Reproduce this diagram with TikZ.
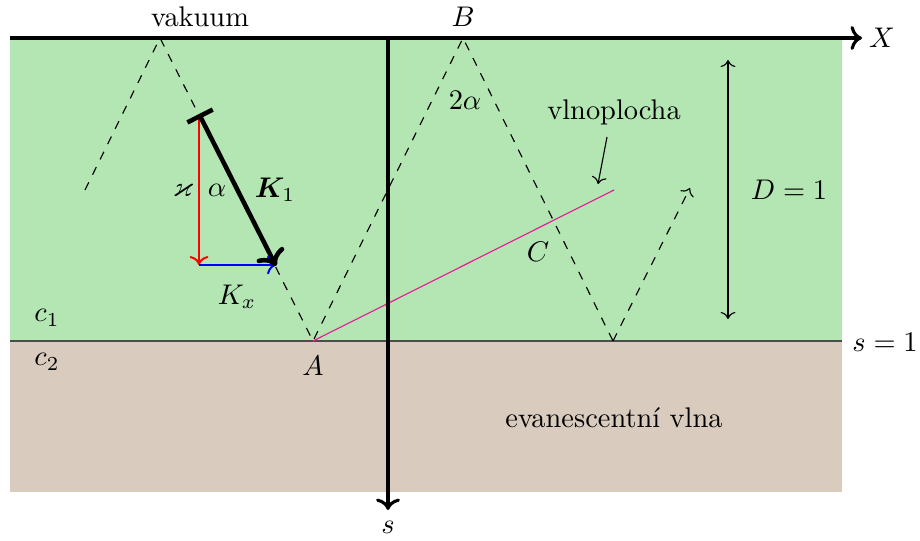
\documentclass[tikz,border=0pt]{standalone}
\usepackage{amsmath,amssymb,bm}
\usetikzlibrary{arrows.meta}
\definecolor{zelena}{RGB}{179,230,179}
\definecolor{hneda}{RGB}{217,203,190}
\definecolor{ruzova}{RGB}{230,30,150}
\begin{document}
\begin{tikzpicture}[x=0.352pt,y=-0.352pt,
  ray/.style={dashed,thin},
  axis/.style={line width=1.1pt,->},
  lbl/.style={inner sep=1pt}]
\useasboundingbox (0,0) rectangle (920,541);
% regions
\fill[zelena] (10,38) rectangle (842,341);
\fill[hneda] (10,341) rectangle (842,492);
\draw[black!70,thin] (10,341) -- (842,341);
% points
\coordinate (P0) at (85,190);
\coordinate (T1) at (160,38);
\coordinate (A) at (313,341);
\coordinate (B) at (463,38);
\coordinate (Q) at (613,341);
\coordinate (E) at (690,188);
\coordinate (W) at (614,190);
\coordinate (K0) at (199,114);
\coordinate (K1e) at (276,266);
\coordinate (Kx) at (199,265);
\coordinate (Kxe) at (276,265);
\coordinate (Xs) at (10,38);
\coordinate (Xe) at (862,38);
\coordinate (Ss) at (388,38);
\coordinate (Se) at (388,510);
\coordinate (D0) at (728,60);
\coordinate (D1) at (728,319);
\coordinate (V0) at (607,137);
\coordinate (V1) at (598,184);
% rays
\draw[ray] (P0) -- (T1) -- (A) -- (B) -- (Q);
\draw[ray,->] (Q) -- (E);
% wavefront
\draw[ruzova,thin] (A) -- (W);
% axes
\draw[axis] (Xs) -- (Xe);
\draw[axis] (Ss) -- (Se);
% vectors
\draw[red,line width=0.7pt,->] (K0) -- (Kx);
\draw[blue,line width=0.7pt,->] (Kx) -- (Kxe);
\draw[line width=1.6pt,{Bar[width=10pt]}->] (K0) -- (K1e);
% D
\draw[thin,<->] (D0) -- (D1);
\draw[thin,->] (V0) -- (V1);
% labels
\node[lbl] (vak) at (200,17) {vakuum};
\node[lbl] (nB) at (463,17) {$B$};
\node[lbl] (nX) at (882,38) {$X$};
\node[lbl] (ns) at (388,527) {$s$};
\node[lbl] (n2a) at (465,100) {$2\alpha$};
\node[lbl] (vln) at (614,112) {vlnoplocha};
\node[lbl] (nC) at (538,252) {$C$};
\node[lbl] (nD) at (789,190) {$D=1$};
\node[lbl] (ns1) at (885,342) {$s=1$};
\node[lbl] (nA) at (313,366) {$A$};
\node[lbl] (nc1) at (47,318) {$c_1$};
\node[lbl] (nc2) at (47,362) {$c_2$};
\node[lbl] (nkap) at (183,190) {$\varkappa$};
\node[lbl] (nal) at (217,190) {$\alpha$};
\node[lbl] (nK1) at (275,190) {$\boldsymbol{K}_1$};
\node[lbl] (nKx) at (237,297) {$K_x$};
\node[lbl] (nev) at (614,418) {evanescentní vlna};
\end{tikzpicture}
\end{document}
